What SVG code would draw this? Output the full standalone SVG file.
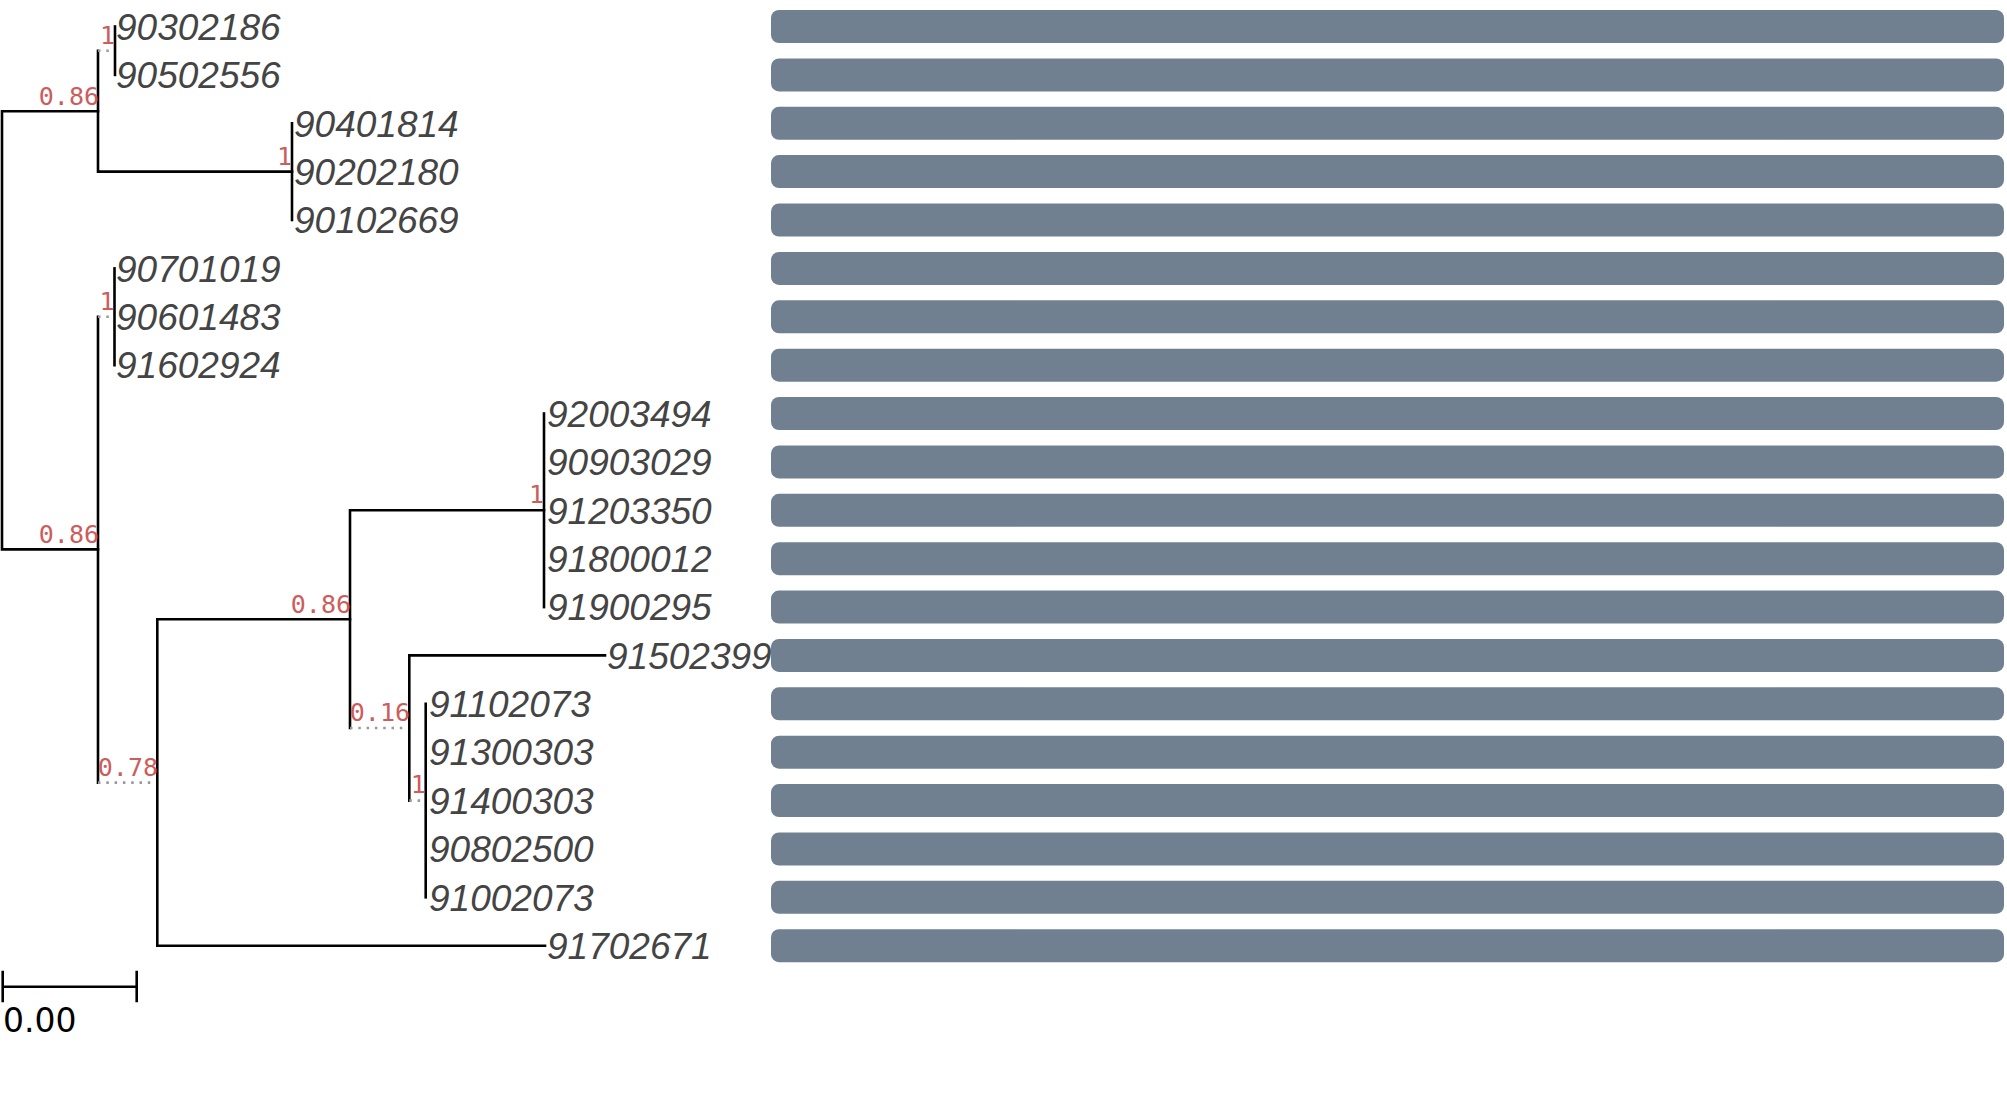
<svg xmlns="http://www.w3.org/2000/svg" width="2007" height="1107" viewBox="0 0 2007 1107">
<style>
.br{stroke:#000;stroke-width:2.6;fill:none;stroke-linecap:square}
.dt{stroke:#999;stroke-width:2.6;fill:none;stroke-dasharray:2.5 5.8}
.lf{font-family:"Liberation Sans",Arial,sans-serif;font-style:italic;font-size:37px;fill:#444}
.sp{font-family:"DejaVu Sans Mono",monospace;font-size:25px;fill:#cd5c5c;text-anchor:end}
.bar{fill:#708090}
.sc{font-family:"DejaVu Sans",sans-serif;font-size:33px;fill:#000}
</style>
<rect width="2007" height="1107" fill="#fff"/>
<g id="connectors">
<path class="br" d="M2,111.2V549.4M2,111.2H98M2,549.4H98"/>
<path class="br" d="M98,50.7V171.6M98,171.6H292"/>
<path class="dt" d="M98,50.7H115"/>
<path class="br" d="M115,26.5V74.9"/>
<path class="br" d="M292,123.3V220"/>
<path class="br" d="M98,316.8V782.6"/>
<path class="dt" d="M98,316.8H114.5"/>
<path class="br" d="M114.5,268.4V365.2"/>
<path class="dt" d="M98,782.6H157.3"/>
<path class="br" d="M157.3,619.2V945.7M157.3,619.2H350M157.3,945.7H545"/>
<path class="br" d="M350,510.3V728M350,510.3H544"/>
<path class="br" d="M544,413.5V607.1"/>
<path class="dt" d="M350,728H409.3"/>
<path class="br" d="M409.3,655.4V800.6M409.3,655.4H605"/>
<path class="dt" d="M409.3,800.6H425.7"/>
<path class="br" d="M425.7,703.8V897.3"/>
</g>
<g id="support">
<text class="sp" x="115" y="43.5">1</text>
<text class="sp" x="292" y="164.5">1</text>
<text class="sp" x="99" y="104.5">0.86</text>
<text class="sp" x="114.5" y="309.5">1</text>
<text class="sp" x="99" y="542.5">0.86</text>
<text class="sp" x="158" y="775.5">0.78</text>
<text class="sp" x="351" y="612.5">0.86</text>
<text class="sp" x="544" y="503">1</text>
<text class="sp" x="410" y="721">0.16</text>
<text class="sp" x="425.7" y="792.5">1</text>
</g>
<g id="leaves">
<g id="n0"><text class="lf" x="116" y="39.7">90302186</text><rect class="bar" x="771" y="10" width="1233" height="33" rx="8"/></g>
<g id="n1"><text class="lf" x="116" y="88.1">90502556</text><rect class="bar" x="771" y="58.4" width="1233" height="33" rx="8"/></g>
<g id="n2"><text class="lf" x="294" y="136.5">90401814</text><rect class="bar" x="771" y="106.8" width="1233" height="33" rx="8"/></g>
<g id="n3"><text class="lf" x="294" y="184.8">90202180</text><rect class="bar" x="771" y="155.1" width="1233" height="33" rx="8"/></g>
<g id="n4"><text class="lf" x="294" y="233.2">90102669</text><rect class="bar" x="771" y="203.5" width="1233" height="33" rx="8"/></g>
<g id="n5"><text class="lf" x="116" y="281.6">90701019</text><rect class="bar" x="771" y="251.9" width="1233" height="33" rx="8"/></g>
<g id="n6"><text class="lf" x="116" y="330">90601483</text><rect class="bar" x="771" y="300.3" width="1233" height="33" rx="8"/></g>
<g id="n7"><text class="lf" x="116" y="378.4">91602924</text><rect class="bar" x="771" y="348.7" width="1233" height="33" rx="8"/></g>
<g id="n8"><text class="lf" x="547" y="426.7">92003494</text><rect class="bar" x="771" y="397" width="1233" height="33" rx="8"/></g>
<g id="n9"><text class="lf" x="547" y="475.1">90903029</text><rect class="bar" x="771" y="445.4" width="1233" height="33" rx="8"/></g>
<g id="n10"><text class="lf" x="547" y="523.5">91203350</text><rect class="bar" x="771" y="493.8" width="1233" height="33" rx="8"/></g>
<g id="n11"><text class="lf" x="547" y="571.9">91800012</text><rect class="bar" x="771" y="542.2" width="1233" height="33" rx="8"/></g>
<g id="n12"><text class="lf" x="547" y="620.3">91900295</text><rect class="bar" x="771" y="590.6" width="1233" height="33" rx="8"/></g>
<g id="n13"><text class="lf" x="607" y="668.6">91502399</text><rect class="bar" x="771" y="638.9" width="1233" height="33" rx="8"/></g>
<g id="n14"><text class="lf" x="429" y="717">91102073</text><rect class="bar" x="771" y="687.3" width="1233" height="33" rx="8"/></g>
<g id="n15"><text class="lf" x="429" y="765.4">91300303</text><rect class="bar" x="771" y="735.7" width="1233" height="33" rx="8"/></g>
<g id="n16"><text class="lf" x="429" y="813.8">91400303</text><rect class="bar" x="771" y="784.1" width="1233" height="33" rx="8"/></g>
<g id="n17"><text class="lf" x="429" y="862.2">90802500</text><rect class="bar" x="771" y="832.5" width="1233" height="33" rx="8"/></g>
<g id="n18"><text class="lf" x="429" y="910.5">91002073</text><rect class="bar" x="771" y="880.8" width="1233" height="33" rx="8"/></g>
<g id="n19"><text class="lf" x="547" y="958.9">91702671</text><rect class="bar" x="771" y="929.2" width="1233" height="33" rx="8"/></g>
</g>
<g id="scale">
<path class="br" stroke-linecap="butt" d="M2.7,986.7H136.7M2.7,972V1001M136.7,972V1001"/>
<text class="sc" x="3" y="1031.5">0.00</text>
</g>
</svg>
